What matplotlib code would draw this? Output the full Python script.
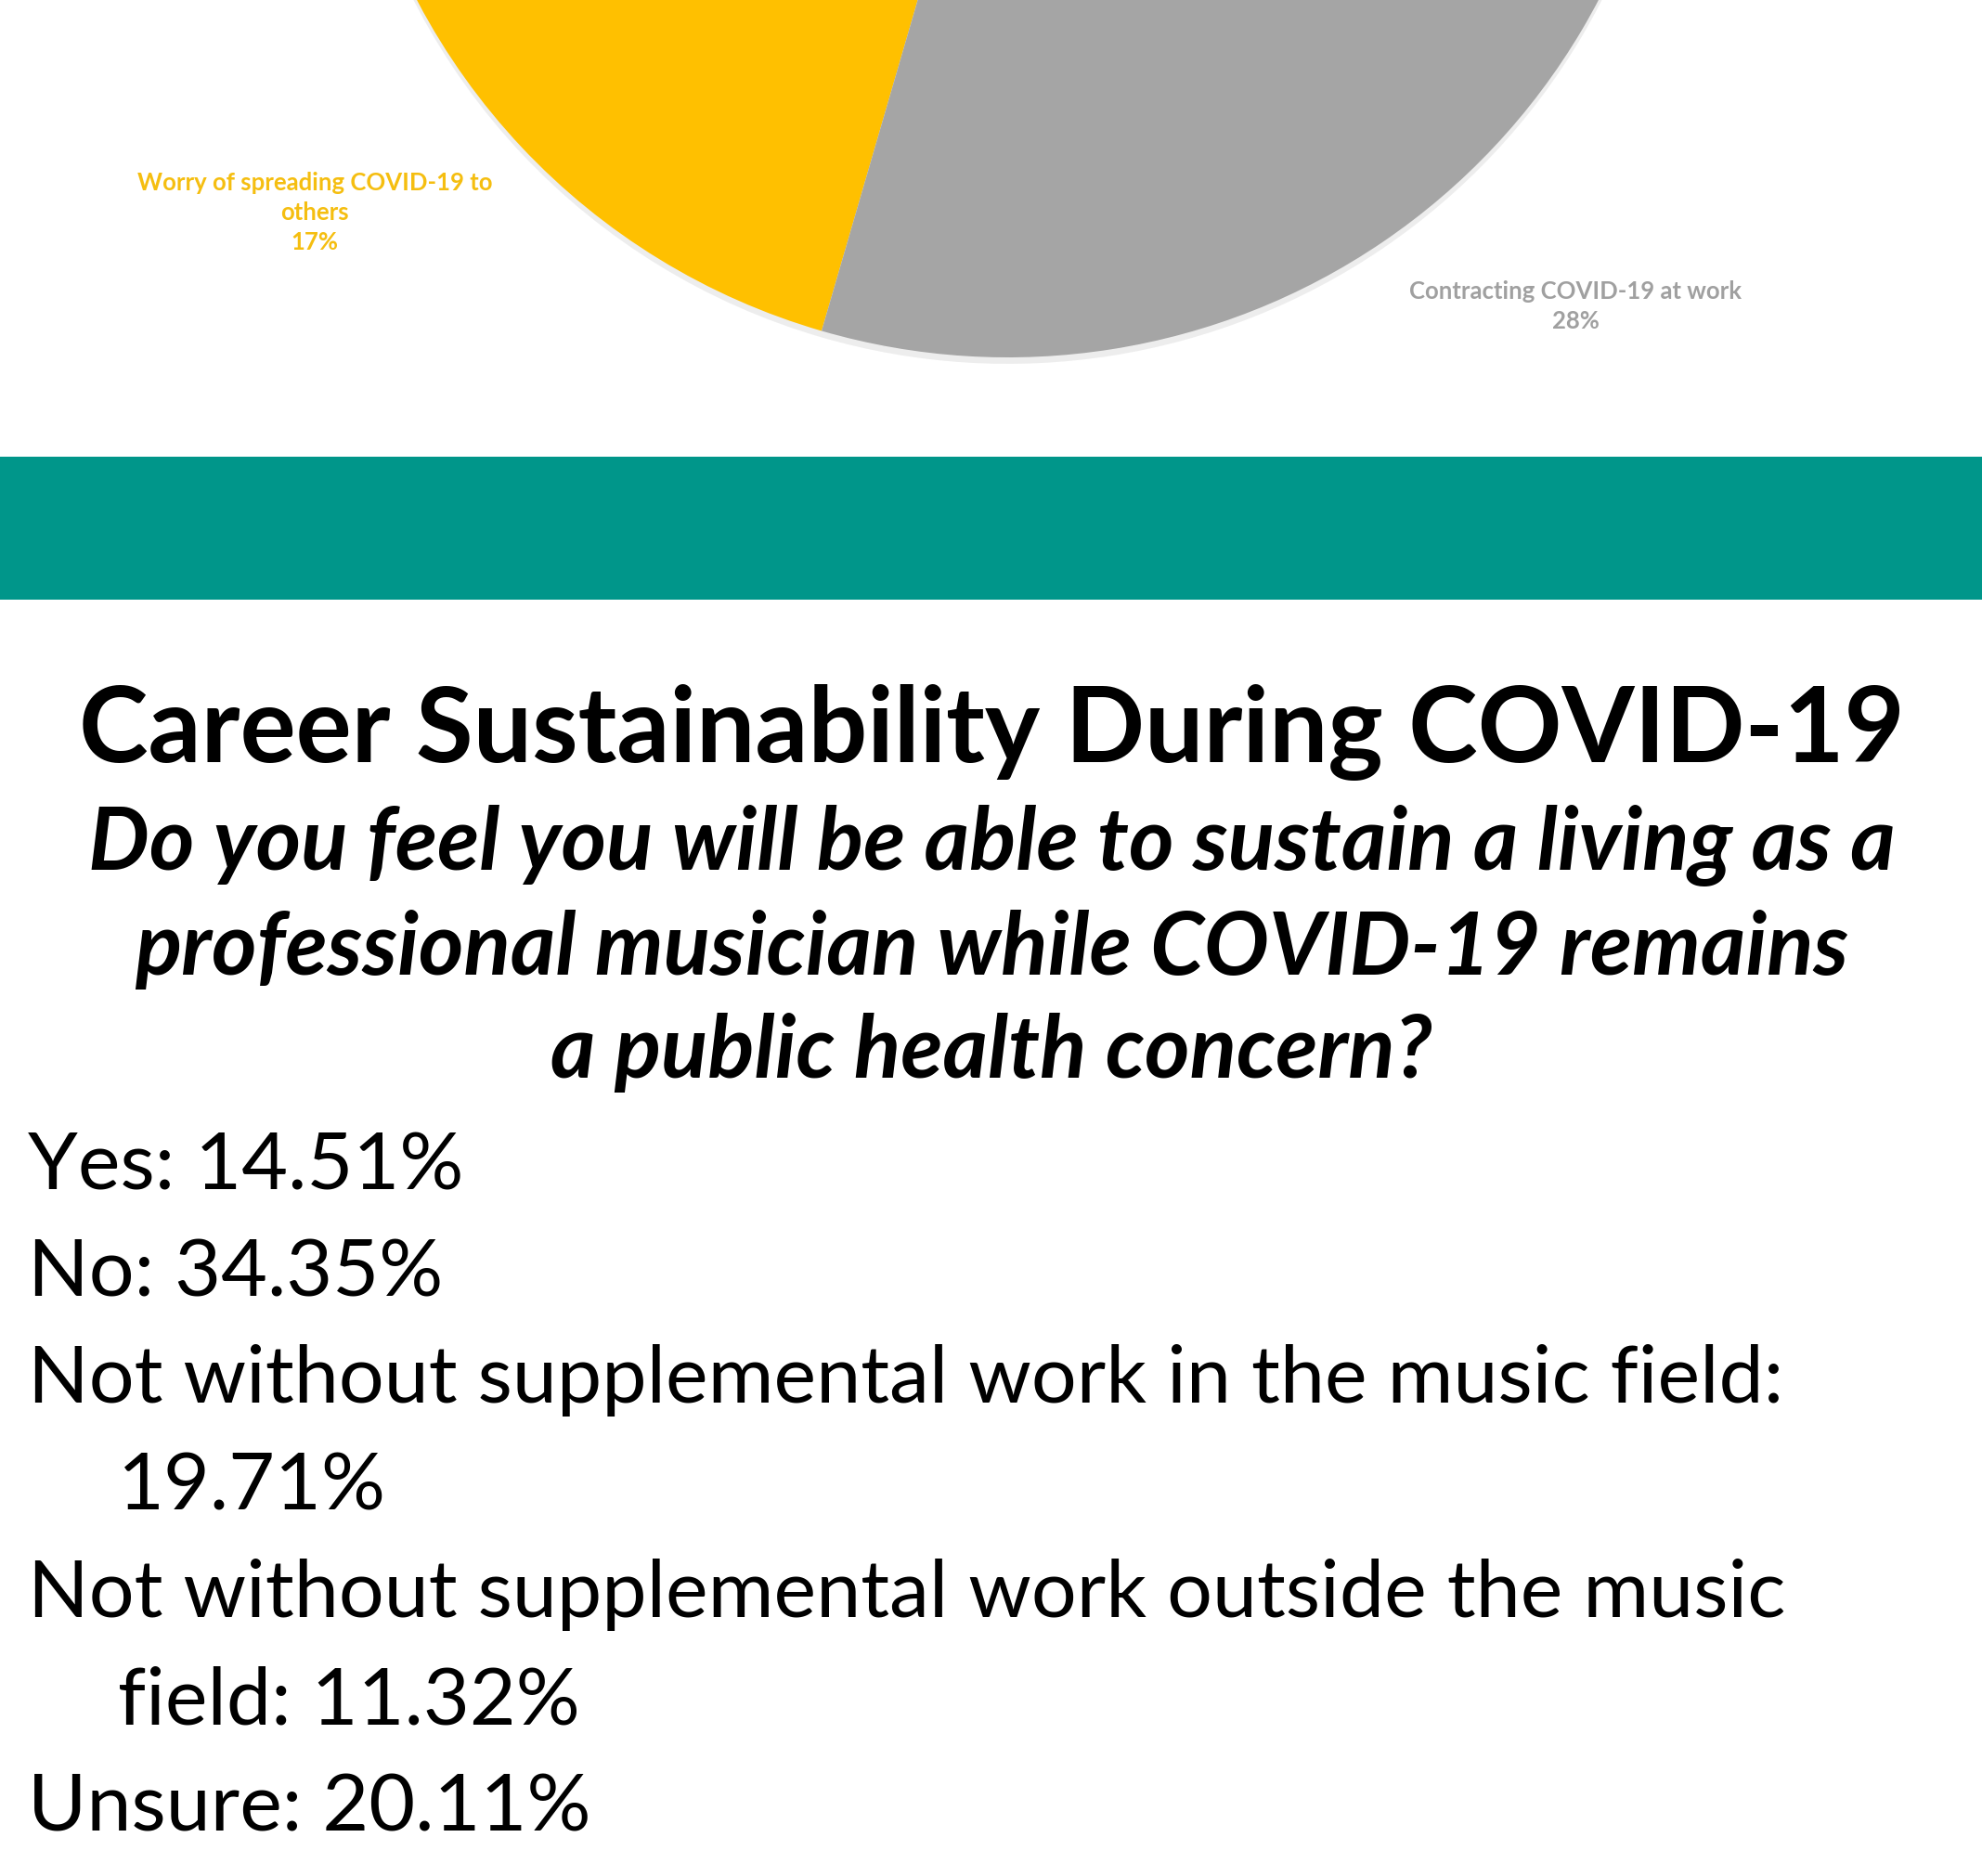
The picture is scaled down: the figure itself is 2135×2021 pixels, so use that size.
import textwrap
import matplotlib
matplotlib.use("Agg")
import matplotlib.pyplot as plt
import matplotlib.patheffects as pe

# pie slices that fall inside the page
pie_labels = ["Worry of spreading COVID-19 to others", "Contracting COVID-19 at work"]
pie_shares = [17, 28]
pie_colors = ["#FFC000", "#A5A5A5"]
pie_text_colors = ["#F5BE10", "#A0A0A0"]

title = "Career Sustainability During COVID-19"
question = ["Do you feel you will be able to sustain a living as a",
            "professional musician while COVID-19 remains",
            "a public health concern?"]

answers = ["Yes", "No",
           "Not without supplemental work in the music field",
           "Not without supplemental work outside the music field",
           "Unsure"]
answer_pct = [14.51, 34.35, 19.71, 11.32, 20.11]

W, H = 2135, 2021
fig = plt.figure(figsize=(W / 100, H / 100), dpi=100)
fig.patch.set_facecolor("white")
ax = fig.add_axes([0, 0, 1, 1])

# pie (centre sits above the top edge, only the lower part shows)
cx, cy, r = 1085.5, H + 333.6, 718.6
wedges, _ = ax.pie([s / 100 for s in pie_shares], colors=pie_colors,
                   center=(cx, cy), radius=r, normalize=False,
                   startangle=192.6, counterclock=True,
                   wedgeprops=dict(linewidth=0), frame=True)
for w in wedges:
    w.set_path_effects([pe.SimplePatchShadow(offset=(0, -5), shadow_rgbFace="#888888", alpha=0.15),
                        pe.Normal()])

label_pos = [(339, 229), (1697, 330)]
label_wrap = [30, 40]
for lab, share, col, (x, y), wrap in zip(pie_labels, pie_shares, pie_text_colors, label_pos, label_wrap):
    txt = "\n".join(textwrap.wrap(lab, wrap)) + "\n%d%%" % share
    ax.text(x, H - y, txt, ha="center", va="center", fontsize=18.5, family="Lato",
            weight="bold", color=col, linespacing=1.4)

# teal band
ax.axhspan(H - 646, H - 492, color="#00968A", linewidth=0)

# title and question
ax.text(1068, H - 821, title, ha="center", va="baseline", fontsize=81,
        family="Lato", weight="bold", color="black")
q_base = [937, 1050, 1161]
for line, yb in zip(question, q_base):
    ax.text(1068, H - yb, line, ha="center", va="baseline", fontsize=67,
            family="Lato", weight="bold", style="italic", color="black")

# answers, wrapped like a bulleted text box with hanging indent
lines = []
for a, p in zip(answers, answer_pct):
    parts = textwrap.wrap("%s: %.2f%%" % (a, p), 50)
    lines.append((parts[0], 30))
    for extra in parts[1:]:
        lines.append((extra, 127))

y0, step = 1281, 115.2
for i, (s, x) in enumerate(lines):
    ax.text(x, H - (y0 + i * step), s, ha="left", va="baseline", fontsize=62,
            family="Lato", color="black")

ax.set_xlim(0, W)
ax.set_ylim(0, H)
ax.set_aspect("auto")
ax.axis("off")

plt.savefig("out.png", dpi=100, facecolor="white")
plt.close()
